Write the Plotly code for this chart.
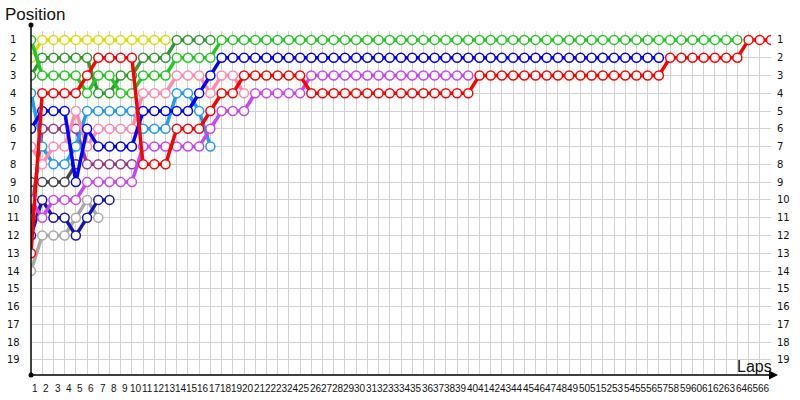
import plotly.graph_objects as go

# ---- data: position per lap (index = lap, starting at lap 0 = grid) ----
laps_max = 66
positions = list(range(1, 20))
lap_labels = list(range(1, 67))

yellow = [2] + [1] * 12
light_green = [1, 3, 3, 3, 3, 4, 3, 3, 4, 4, 3, 3, 3, 2, 2, 2, 2] + [1] * 47
dark_green = [3, 2, 2, 2, 2, 2, 4, 4, 3, 3, 2, 2, 2, 1, 1, 1, 1]
red = ([13, 4, 4, 4, 4, 3, 2, 2, 2, 2, 8, 8, 8, 6, 6, 6, 5, 4, 4]
       + [3] * 6 + [4] * 15 + [3] * 17 + [2] * 7 + [1] * 3)
blue = [6, 5, 5, 5, 9, 6, 7, 7, 7, 7, 5, 5, 5, 5, 5, 4, 3] + [2] * 40
light_blue = [4, 7, 8, 8, 7, 5, 5, 5, 5, 5, 6, 6, 6, 4, 4, 5, 7]
pink = [7, 8, 7, 7, 5, 7, 6, 6, 6, 6, 4, 4, 4, 3, 3, 3, 4, 3, 3, 4]
purple = [11, 6, 6, 6, 6, 8, 8, 8, 8, 8]
dark_gray = [9, 9, 9, 9, 8]
violet = [10, 11, 10, 10, 10, 9, 9, 9, 9, 9, 7, 7, 7, 7, 7, 7, 6, 5, 5, 5] + [4] * 5 + [3] * 15
navy = [12, 10, 11, 11, 12, 11, 10, 10]
silver = [14, 12, 12, 12, 11, 10, 11]

series = [
    ("silver", silver, "#a8a8a8"),
    ("navy", navy, "#1414b4"),
    ("dark_gray", dark_gray, "#454545"),
    ("purple", purple, "#94398f"),
    ("yellow", yellow, "#dcdc00"),
    ("light_blue", light_blue, "#1e9bf5"),
    ("pink", pink, "#ff8aae"),
    ("dark_green", dark_green, "#2f9a2f"),
    ("violet", violet, "#c844f5"),
    ("blue", blue, "#0000ff"),
    ("light_green", light_green, "#22c822"),
    ("red", red, "#ff0000"),
]

fig = go.Figure()
for name, vals, col in series:
    fig.add_trace(go.Scatter(
        x=list(range(len(vals))), y=vals, mode="lines+markers", name=name,
        line=dict(color=col, width=3.5),
        marker=dict(symbol="circle", size=9, color="white",
                    line=dict(color=col, width=1.5)),
        hoverinfo="skip", showlegend=False,
    ))

# plot area geometry helpers (pixels)
L, R, T, B = 31, 771, 31, 375
W, H = R - L, B - T


def px2paper_x(px):
    return (px - L) / W


def px2paper_y(py):
    return (B - py) / H


annotations = []
label_font = dict(family="DejaVu Sans", size=10, color="#111")
for p in positions:
    annotations.append(dict(x=px2paper_x(13), y=p, xref="paper", yref="y",
                            text=str(p), showarrow=False, xanchor="center",
                            yanchor="middle", font=label_font))
    annotations.append(dict(x=px2paper_x(775), y=p, xref="paper", yref="y",
                            text=str(p), showarrow=False, xanchor="left",
                            yanchor="middle", font=label_font))
for k in lap_labels:
    annotations.append(dict(x=k - 0.62, y=px2paper_y(388), xref="x", yref="paper",
                            text=str(k), showarrow=False, xanchor="center",
                            yanchor="middle", borderpad=0,
                            font=dict(family="Liberation Sans", size=10, color="#111")))

annotations.append(dict(x=px2paper_x(3), y=px2paper_y(15), xref="paper", yref="paper",
                        text="Position", showarrow=False, xanchor="left", yanchor="middle",
                        font=dict(family="Liberation Sans", size=17, color="#111")))
annotations.append(dict(x=px2paper_x(773), y=px2paper_y(366), xref="paper", yref="paper",
                        text="Laps", showarrow=False, xanchor="right", yanchor="middle",
                        borderpad=0,
                        font=dict(family="Liberation Sans", size=16, color="#111")))
# x axis with arrow
annotations.append(dict(x=px2paper_x(778), y=0, xref="paper", yref="paper",
                        ax=-(778 - L), ay=0, text="", showarrow=True,
                        arrowhead=2, arrowsize=1.2, arrowwidth=1.5, arrowcolor="black"))

shapes = [
    dict(type="line", xref="paper", yref="paper", x0=0, x1=0,
         y0=0, y1=px2paper_y(25), line=dict(color="black", width=1.5)),
    dict(type="circle", xref="paper", yref="paper", xsizemode="pixel", ysizemode="pixel",
         xanchor=0, yanchor=px2paper_y(25), x0=-2.5, x1=2.5, y0=-2.5, y1=2.5,
         fillcolor="black", line=dict(width=0)),
    dict(type="circle", xref="paper", yref="paper", xsizemode="pixel", ysizemode="pixel",
         xanchor=0, yanchor=0, x0=-2.5, x1=2.5, y0=-2.5, y1=2.5,
         fillcolor="black", line=dict(width=0)),
]

fig.update_layout(
    width=800, height=400,
    margin=dict(l=L, r=800 - R, t=T, b=400 - B, pad=0, autoexpand=False),
    paper_bgcolor="white", plot_bgcolor="white",
    xaxis=dict(range=[0, laps_max], dtick=1, tick0=0, showgrid=True, gridcolor="#d2d2d2",
               gridwidth=1, showticklabels=False, zeroline=False, showline=False, ticks=""),
    yaxis=dict(range=[19.85, 0.5], tickvals=positions, showgrid=True, gridcolor="#d2d2d2",
               gridwidth=1, showticklabels=False, zeroline=False, showline=False, ticks=""),
    annotations=annotations, shapes=shapes, showlegend=False,
)

fig.write_html(
    "out.html",
    config={"displayModeBar": False},
    post_script="document.body.style.margin='0';document.body.style.overflow='hidden';",
)
